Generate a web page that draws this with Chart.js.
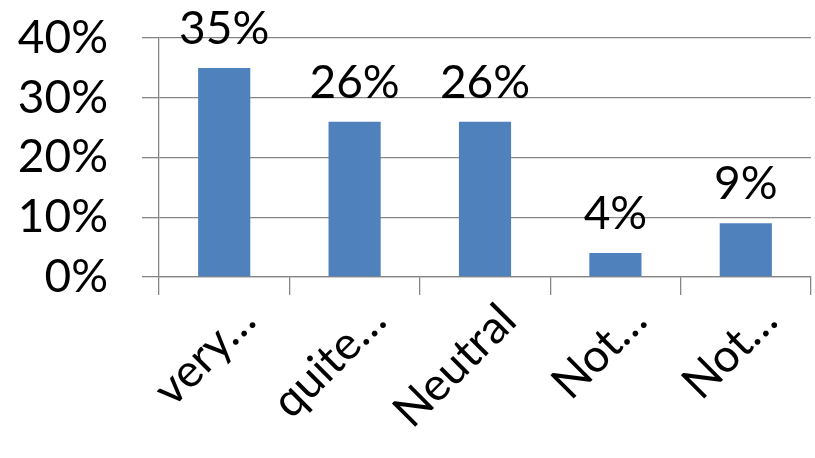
<!DOCTYPE html>
<html>
<head>
<meta charset="utf-8">
<script src="https://cdn.jsdelivr.net/npm/chart.js@4.4.0/dist/chart.umd.min.js"></script>
<style>
  html, body { margin: 0; padding: 0; background: #fff; }
  #wrap { width: 815px; height: 458px; }
</style>
</head>
<body>
<div id="wrap"><canvas id="chart" width="815" height="458"></canvas></div>
<script>
const categories = ['very\u2026', 'quite\u2026', 'Neutral', 'Not\u2026', 'Not\u2026'];
const shares = [0.35, 0.26, 0.26, 0.04, 0.09];
const yTicks = [0, 0.1, 0.2, 0.3, 0.4];

const FONT = 'Lato, "Liberation Sans", sans-serif';
const gridGrey = '#868686';

const pct = v => Math.round(v * 100) + '%';

// value labels above each bar
const barLabels = {
  id: 'barLabels',
  afterDatasetsDraw(chart) {
    const ctx = chart.ctx;
    const meta = chart.getDatasetMeta(0);
    ctx.save();
    ctx.font = '46px ' + FONT;
    ctx.fillStyle = '#000';
    ctx.textAlign = 'center';
    ctx.textBaseline = 'alphabetic';
    meta.data.forEach((bar, i) => {
      ctx.fillText(pct(shares[i]), bar.x, bar.y - 24);
    });
    ctx.restore();
  }
};

// category labels, turned 45 degrees the way the spreadsheet sets them
const slantLabels = {
  id: 'slantLabels',
  afterDraw(chart) {
    const ctx = chart.ctx;
    const xs = chart.scales.x;
    ctx.save();
    ctx.font = '46px ' + FONT;
    ctx.fillStyle = '#000';
    ctx.textAlign = 'right';
    ctx.textBaseline = 'alphabetic';
    categories.forEach((lab, i) => {
      ctx.save();
      ctx.translate(xs.getPixelForTick(i) + 34, xs.top + 46);
      ctx.rotate(-Math.PI / 4);
      ctx.fillText(lab, 0, 0);
      ctx.restore();
    });
    ctx.restore();
  }
};

const chart = new Chart(document.getElementById('chart'), {
  type: 'bar',
  data: {
    labels: categories,
    datasets: [{
      data: shares,
      backgroundColor: '#4F81BD',
      categoryPercentage: 1,
      barPercentage: 0.4
    }]
  },
  options: {
    responsive: false,
    animation: false,
    layout: { padding: { top: 38, right: 4, left: 0, bottom: 0 } },
    plugins: { legend: { display: false }, tooltip: { enabled: false } },
    scales: {
      y: {
        min: 0,
        max: 0.4,
        afterBuildTicks: axis => { axis.ticks = yTicks.map(v => ({ value: v })); },
        afterFit: axis => {
          axis.width = 159;
          axis.paddingTop = 0;
          axis.paddingBottom = 0;
        },
        grid: { color: gridGrey, lineWidth: 1.3, tickLength: 17 },
        border: { color: gridGrey, width: 1.3 },
        ticks: {
          callback: v => pct(v),
          autoSkip: false,
          color: '#000',
          padding: 34,
          font: { family: FONT, size: 46 }
        }
      },
      x: {
        afterFit: axis => { axis.height = 181; },
        grid: { color: gridGrey, lineWidth: 1.3, drawOnChartArea: false, tickLength: 18 },
        border: { color: gridGrey, width: 1.3 },
        ticks: { display: false }
      }
    }
  },
  plugins: [barLabels, slantLabels]
});
</script>
</body>
</html>
